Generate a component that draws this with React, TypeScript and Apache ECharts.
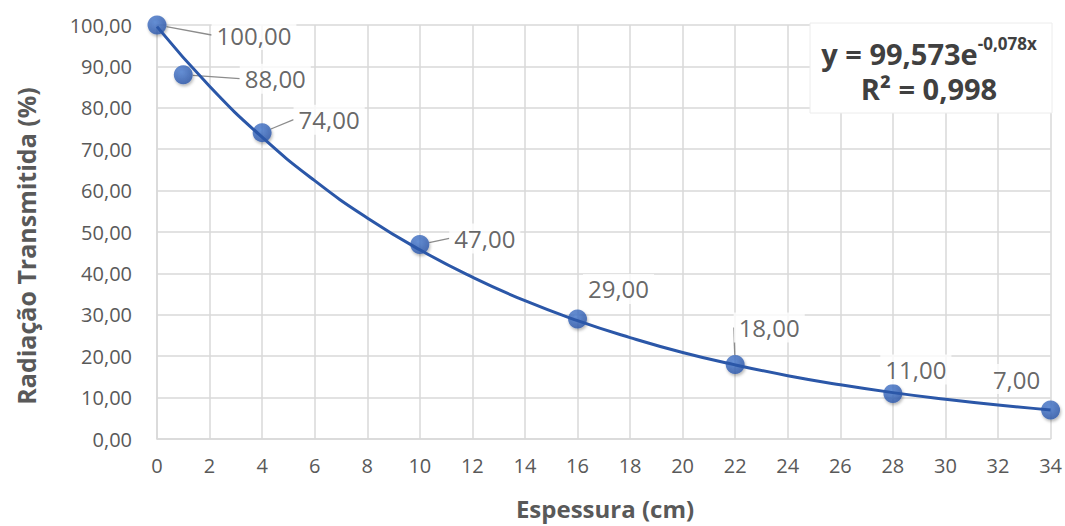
import React, { useEffect, useRef } from "react";
import * as echarts from "echarts";

const thicknessCm = [0, 1, 4, 10, 16, 22, 28, 34];
const transmittedPct = [100, 88, 74, 47, 29, 18, 11, 7];
const trendX = [0, 2, 4, 6, 8, 10, 12, 14, 16, 18, 20, 22, 24, 26, 28, 30, 32, 34];
const trendY = [99.6, 85.2, 72.9, 62.4, 53.4, 45.7, 39.1, 33.4, 28.6, 24.5, 20.9, 17.9, 15.3, 13.1, 11.2, 9.6, 8.2, 7.0];
const equationMain = "y = 99,573e";
const equationExp = "-0,078x";
const rSquared = "R² = 0,998";
const xTitle = "Espessura (cm)";
const yTitle = "Radiação Transmitida (%)";

// label layout (pixel offsets of label centres from their points)
const labelOffsets: [number, number][] = [
  [97, 10], [92, 4], [67, -13], [65, -6], [41, -30], [34, -37], [23, -24], [-34, -31],
];
const leaderShown = [true, true, true, true, false, true, false, false];

const fmt = (v: number) => v.toFixed(2).replace(".", ",");
const FONT = "'Open Sans', 'Liberation Sans', sans-serif";

export default function App() {
  const ref = useRef<HTMLDivElement>(null);
  useEffect(() => {
    if (!ref.current) return;
    const chart = echarts.init(ref.current, null, { renderer: "svg" });
    const gridColor = "#d9d9d9";
    chart.setOption({
      animation: false,
      backgroundColor: "#ffffff",
      textStyle: { fontFamily: FONT },
      grid: { left: 157, right: 11, top: 25, bottom: 87 },
      xAxis: {
        type: "value",
        min: 0,
        max: 34,
        interval: 2,
        axisLine: { show: true, lineStyle: { color: gridColor, width: 1.5 } },
        axisTick: { show: false },
        splitLine: { show: true, lineStyle: { color: gridColor, width: 1.5 } },
        axisLabel: { color: "#595959", fontSize: 20, margin: 16, fontFamily: FONT },
      },
      yAxis: {
        type: "value",
        min: 0,
        max: 100,
        interval: 10,
        axisLine: { show: true, lineStyle: { color: gridColor, width: 1.5 } },
        axisTick: { show: false },
        splitLine: { show: true, lineStyle: { color: gridColor, width: 1.5 } },
        axisLabel: {
          color: "#595959",
          fontSize: 20,
          margin: 25,
          fontFamily: FONT,
          formatter: (v: number) => fmt(v),
        },
      },
      series: [
        {
          type: "scatter",
          z: 2,
          symbol: "circle",
          symbolSize: 19,
          itemStyle: {
            color: new echarts.graphic.RadialGradient(0.4, 0.35, 0.7, [
              { offset: 0, color: "#4d7fd3" },
              { offset: 1, color: "#2853a6" },
            ]),
            shadowBlur: 3,
            shadowColor: "rgba(0,0,0,0.35)",
            shadowOffsetX: 1,
            shadowOffsetY: 2,
          },
          data: thicknessCm.map((x, i) => ({
            value: [x, transmittedPct[i]],
            labelLine: { show: leaderShown[i] },
          })),
          label: {
            show: true,
            position: "inside",
            color: "#404040",
            fontSize: 24,
            fontFamily: FONT,
            backgroundColor: "#ffffff",
            padding: [3, 5],
            formatter: (p: any) => fmt(p.value[1]),
          },
          labelLine: {
            show: true,
            lineStyle: { color: "#8c8c8c", width: 1.3 },
          },
          labelLayout: (p: any) => ({
            dx: labelOffsets[p.dataIndex][0],
            dy: labelOffsets[p.dataIndex][1],
          }),
        },
        {
          type: "line",
          z: 3,
          smooth: true,
          symbol: "none",
          silent: true,
          lineStyle: { color: "#2b57a8", width: 3 },
          data: trendX.map((x, i) => [x, trendY[i]]),
        },
      ],
      graphic: [
        {
          type: "rect",
          z: 10,
          shape: { x: 810, y: 23, width: 242, height: 90 },
          style: { fill: "#ffffff", stroke: "#ececec", lineWidth: 1 },
        },
        {
          type: "text",
          z: 11,
          x: 929,
          y: 53,
          style: {
            text: `{a|${equationMain}}{b|${equationExp}}`,
            align: "center",
            verticalAlign: "middle",
            rich: {
              a: { fontSize: 29, fontWeight: "bold", fill: "#404040", fontFamily: FONT, lineHeight: 36 },
              b: { fontSize: 17, fontWeight: "bold", fill: "#404040", fontFamily: FONT, verticalAlign: "top", lineHeight: 22 },
            },
          },
        },
        {
          type: "text",
          z: 11,
          x: 929,
          y: 88,
          style: {
            text: rSquared,
            align: "center",
            verticalAlign: "middle",
            fontSize: 29,
            fontWeight: "bold",
            fill: "#404040",
            fontFamily: FONT,
          },
        },
        {
          type: "text",
          x: 605,
          y: 508,
          style: {
            text: xTitle,
            align: "center",
            verticalAlign: "middle",
            fontSize: 24,
            fontWeight: "bold",
            fill: "#595959",
            fontFamily: FONT,
          },
        },
        {
          type: "text",
          x: 26,
          y: 246,
          rotation: Math.PI / 2,
          style: {
            text: yTitle,
            align: "center",
            verticalAlign: "middle",
            fontSize: 25,
            fontWeight: "bold",
            fill: "#595959",
            fontFamily: FONT,
          },
        },
      ],
    });
    return () => chart.dispose();
  }, []);
  return (
    <div
      ref={ref}
      style={{ position: "fixed", left: 0, top: 0, width: 1065, height: 526, background: "#fff" }}
    />
  );
}
